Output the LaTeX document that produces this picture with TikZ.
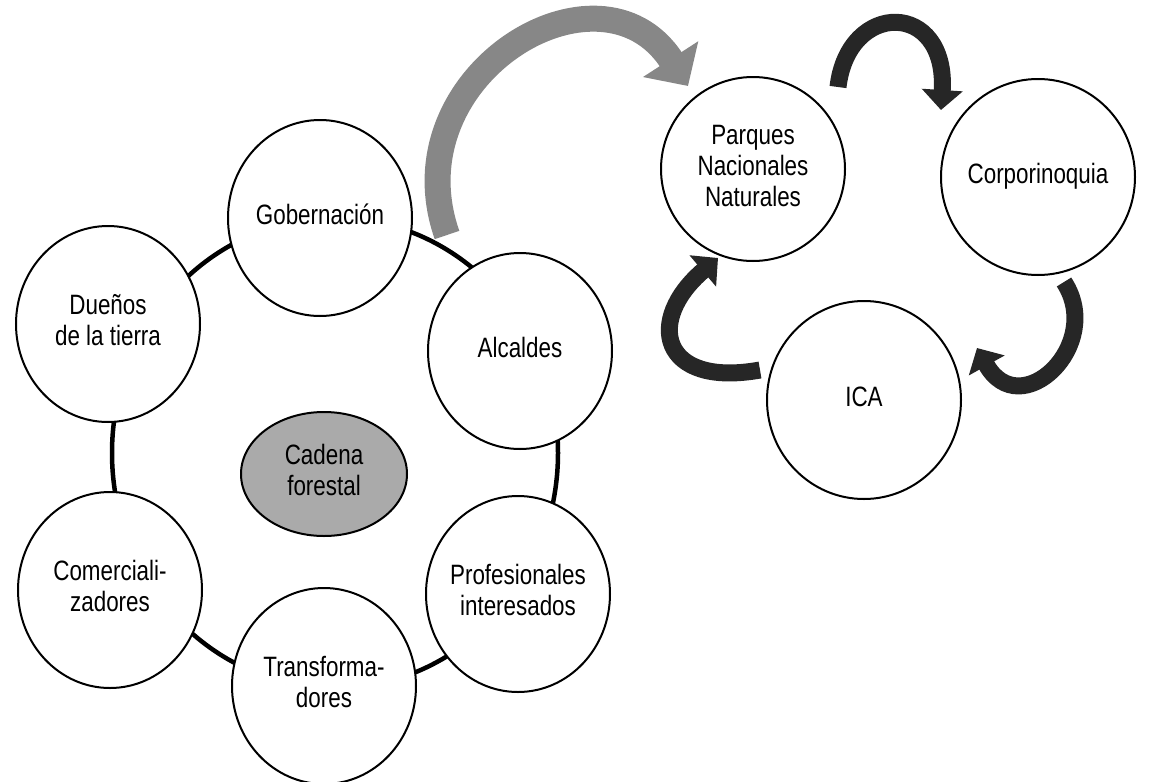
\documentclass[tikz,border=0pt]{standalone}
\usepackage{fontspec}
\setmainfont{Liberation Sans}[FakeStretch=0.8]
\usepackage{tikz}
\usetikzlibrary{shapes,arrows.meta}
\definecolor{arrowgray}{RGB}{135,135,135}
\definecolor{arrowdark}{RGB}{38,38,38}
\definecolor{coregray}{RGB}{170,170,170}
% text of a circle, kept out of the size of the node
\newcommand\lines[1]{\makebox[0pt]{\begin{tabular}{@{}c@{}}#1\end{tabular}}}

\begin{document}
\begin{tikzpicture}[x=1pt,y=-1pt,
  every node/.style={font=\fontsize{28}{31}\selectfont},
  actor/.style={ellipse,draw,line width=2pt,fill=white,minimum width=184pt,minimum height=196pt,inner sep=0pt},
  core/.style={ellipse,draw,line width=2pt,fill=coregray,minimum width=166pt,minimum height=124pt,inner sep=0pt},
  bigarrow/.style={draw=arrowgray,line width=26pt,-{Triangle[length=32pt,width=64pt]}},
  smallarrow/.style={draw=arrowdark,line width=17pt,-{Triangle[length=20pt,width=40pt]}}]
\useasboundingbox (0,0) rectangle (1163,782);

% to draw the ring of the chain
\draw [line width=4.5pt] (335,453) ellipse [x radius=223pt,y radius=235pt];

% to write the chain actors
\node [actor] (gob) at (320,218) {\lines{Gobernación}};
\node [actor] (duenos) at (108,324) {\lines{Dueños\\de la tierra}};
\node [actor] (alc) at (520,351) {\lines{Alcaldes}};
\node [actor] (prof) at (518,594) {\lines{Profesionales\\interesados}};
\node [actor] (trans) at (324,686) {\lines{Transforma-\\dores}};
\node [actor] (comer) at (110,590) {\lines{Comerciali-\\zadores}};
\node [core] (cadena) at (324,474) {\lines{Cadena\\forestal}};

% to write the institutions
\node [actor,minimum height=184pt] (pnn) at (753,169) {\lines{Parques\\Nacionales\\Naturales}};
\node [actor,minimum width=194pt] (corpo) at (1038,177) {\lines{Corporinoquia}};
\node [actor,minimum width=194pt,minimum height=198pt] (ica) at (864,400) {\lines{ICA}};

% ends of the curved arrows
\coordinate (graytail) at (447,235);
\coordinate (graytip) at (688,86);
\coordinate (pnntail) at (838,87);
\coordinate (corpotip) at (941,110);
\coordinate (corpotail) at (1064,282);
\coordinate (icatip) at (977,348);
\coordinate (icatail) at (760,370);
\coordinate (pnntip) at (718,258);

% to draw the curved arrows
\draw [bigarrow] (graytail) .. controls (391,75) and (600,-50) .. (graytip);
\draw [smallarrow] (pnntail) .. controls (848,0) and (948,0) .. (corpotip);
\draw [smallarrow] (corpotail) .. controls (1105,345) and (1020,425) .. (icatip);
\draw [smallarrow] (icatail) .. controls (660,388) and (645,320) .. (pnntip);
\end{tikzpicture}
\end{document}
